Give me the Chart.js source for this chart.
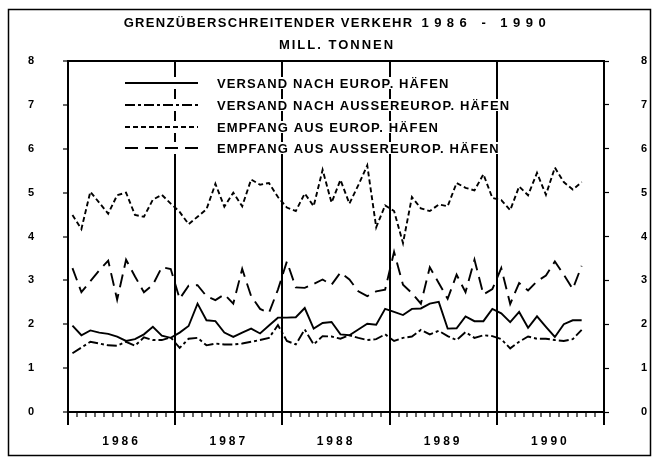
<!DOCTYPE html>
<html>
<head>
<meta charset="utf-8">
<script src="https://cdn.jsdelivr.net/npm/chart.js@4/dist/chart.umd.min.js"></script>
<style>
  html, body { margin: 0; padding: 0; background: #fff; }
  #wrap { width: 656px; height: 457px; position: relative; }
</style>
</head>
<body>
<div id="wrap"><canvas id="verkehrChart" width="656" height="457"></canvas></div>
<script>
// Daten: Monatswerte Jan 1986 - Okt 1990, Mill. Tonnen
const years = ['1986', '1987', '1988', '1989', '1990'];
const titleWords = 'GRENZÜBERSCHREITENDER VERKEHR';
const titleYears = '1986 - 1990';
const subtitleText = 'MILL. TONNEN';

const versandEurop = [
  1.97, 1.75, 1.86, 1.81, 1.78, 1.72, 1.62, 1.66, 1.77, 1.94, 1.74, 1.69,
  1.81, 1.96, 2.47, 2.09, 2.07, 1.81, 1.71, 1.81, 1.90, 1.79, 1.97, 2.15,
  2.15, 2.16, 2.37, 1.90, 2.03, 2.05, 1.77, 1.75, 1.88, 2.01, 1.99, 2.35,
  2.28, 2.21, 2.35, 2.36, 2.47, 2.51, 1.90, 1.91, 2.18, 2.07, 2.07, 2.35,
  2.25, 2.05, 2.28, 1.92, 2.18, 1.94, 1.71, 2.00, 2.09, 2.09
];
const versandAussereurop = [
  1.34, 1.47, 1.60, 1.56, 1.52, 1.51, 1.60, 1.51, 1.70, 1.64, 1.64, 1.70,
  1.46, 1.67, 1.69, 1.52, 1.56, 1.54, 1.54, 1.56, 1.60, 1.64, 1.69, 1.98,
  1.62, 1.54, 1.88, 1.54, 1.73, 1.72, 1.67, 1.75, 1.69, 1.64, 1.66, 1.77,
  1.62, 1.69, 1.72, 1.87, 1.77, 1.85, 1.73, 1.64, 1.82, 1.69, 1.75, 1.73,
  1.66, 1.45, 1.60, 1.72, 1.67, 1.67, 1.64, 1.62, 1.66, 1.87
];
const empfangEurop = [
  4.49, 4.17, 5.02, 4.77, 4.52, 4.94, 5.00, 4.49, 4.45, 4.84, 4.95, 4.75,
  4.56, 4.28, 4.45, 4.62, 5.20, 4.68, 5.00, 4.69, 5.30, 5.18, 5.22, 4.90,
  4.66, 4.58, 4.98, 4.69, 5.52, 4.77, 5.29, 4.75, 5.17, 5.62, 4.21, 4.71,
  4.58, 3.85, 4.90, 4.64, 4.58, 4.73, 4.69, 5.22, 5.11, 5.05, 5.42, 4.88,
  4.83, 4.60, 5.14, 4.94, 5.45, 4.95, 5.57, 5.24, 5.07, 5.24
];
const empfangAussereurop = [
  3.28, 2.73, 2.98, 3.23, 3.45, 2.56, 3.47, 3.09, 2.73, 2.90, 3.30, 3.26,
  2.58, 2.88, 2.89, 2.64, 2.55, 2.68, 2.47, 3.26, 2.64, 2.35, 2.26, 2.79,
  3.43, 2.84, 2.83, 2.92, 3.02, 2.90, 3.18, 3.02, 2.75, 2.64, 2.75, 2.79,
  3.65, 2.90, 2.71, 2.47, 3.30, 2.94, 2.58, 3.13, 2.73, 3.47, 2.68, 2.80,
  3.28, 2.46, 2.94, 2.77, 2.98, 3.11, 3.43, 3.13, 2.80, 3.33
];

const seriesLabels = [
  'VERSAND NACH EUROP. HÄFEN',
  'VERSAND NACH AUSSEREUROP. HÄFEN',
  'EMPFANG AUS EUROP. HÄFEN',
  'EMPFANG AUS AUSSEREUROP. HÄFEN'
];

const FONT = '"Liberation Sans", Arial, sans-serif';

// Monatswerte in der Mitte des Monats platzieren
function toPoints(values) {
  return values.map((v, i) => ({ x: i + 0.5, y: v }));
}

function isYearBoundary(v) {
  return v % 12 === 0 && v > 0 && v < 60;
}

// Titel, Legende, Rahmen und lange Jahresstriche
const decorPlugin = {
  id: 'decor',
  beforeDraw(chart) {
    chart.ctx.letterSpacing = '3px';
  },
  afterDraw(chart) {
    const ctx = chart.ctx;
    const area = chart.chartArea;
    const xs = chart.scales.x;
    ctx.save();
    ctx.letterSpacing = '0px';

    // lange Striche an den Jahresgrenzen
    ctx.strokeStyle = '#000';
    ctx.lineWidth = 2;
    for (let v = 0; v <= 60; v += 12) {
      const px = Math.round(xs.getPixelForValue(v));
      ctx.beginPath();
      ctx.moveTo(px, area.bottom);
      ctx.lineTo(px, area.bottom + 13);
      ctx.stroke();
    }

    // Titel (Jahreszahlen gesperrt)
    const cx = (area.left + area.right) / 2;
    ctx.fillStyle = '#000';
    ctx.textBaseline = 'middle';
    ctx.textAlign = 'left';
    ctx.font = 'bold 13px ' + FONT;
    ctx.letterSpacing = '1.3px';
    const w1 = ctx.measureText(titleWords + ' ').width;
    ctx.letterSpacing = '5.5px';
    const w2 = ctx.measureText(titleYears).width;
    const tx = cx - (w1 + w2) / 2;
    ctx.letterSpacing = '1.3px';
    ctx.fillText(titleWords + ' ', tx, 23);
    ctx.letterSpacing = '5.5px';
    ctx.fillText(titleYears, tx + w1 + 3, 23);

    ctx.textAlign = 'center';
    ctx.letterSpacing = '2px';
    ctx.fillText(subtitleText, cx + 1, 45);

    // Legende
    ctx.letterSpacing = '1.1px';
    ctx.font = 'bold 13px ' + FONT;
    ctx.textAlign = 'left';
    const rowY = [83, 105, 127, 148];
    chart.data.datasets.forEach((ds, i) => {
      const y = rowY[i];
      const w = ctx.measureText(ds.label).width;
      ctx.fillStyle = '#fff';
      ctx.fillRect(122, y - 6, 217 + w - 122 + 2, 12);
      ctx.strokeStyle = '#000';
      ctx.lineWidth = ds.borderWidth;
      ctx.setLineDash(ds.borderDash || []);
      ctx.beginPath();
      ctx.moveTo(125, y);
      ctx.lineTo(198, y);
      ctx.stroke();
      ctx.setLineDash([]);
      ctx.fillStyle = '#000';
      ctx.fillText(ds.label, 217, y + 1);
    });

    // Rahmen
    ctx.lineWidth = 1.5;
    ctx.strokeStyle = '#000';
    ctx.strokeRect(8.5, 9.5, 642, 446);
    ctx.restore();
  }
};

const ctx = document.getElementById('verkehrChart').getContext('2d');
new Chart(ctx, {
  type: 'line',
  data: {
    datasets: [
      { label: seriesLabels[0], data: toPoints(versandEurop), borderDash: [] },
      { label: seriesLabels[1], data: toPoints(versandAussereurop), borderDash: [10, 3, 3, 3] },
      { label: seriesLabels[2], data: toPoints(empfangEurop), borderDash: [5, 3] },
      { label: seriesLabels[3], data: toPoints(empfangAussereurop), borderDash: [13, 7] }
    ].map(ds => Object.assign(ds, {
      borderColor: '#000',
      borderWidth: 1.9,
      pointRadius: 0,
      tension: 0,
      fill: false,
      yAxisID: 'y'
    }))
  },
  options: {
    responsive: false,
    animation: false,
    devicePixelRatio: 1,
    layout: { padding: { top: 61, left: 0, right: 0, bottom: 0 } },
    plugins: {
      legend: { display: false },
      tooltip: { enabled: false },
      title: { display: false }
    },
    scales: {
      x: {
        type: 'linear',
        position: 'bottom',
        min: 0,
        max: 60,
        afterFit: s => { s.height = 45; },
        ticks: {
          stepSize: 1,
          maxTicksLimit: 100,
          autoSkip: false,
          maxRotation: 0,
          padding: 17,
          color: '#000',
          font: { family: FONT, size: 12, weight: 'bold' },
          callback: v => (v % 12 === 6 ? years[Math.floor(v / 12)] : '')
        },
        grid: {
          color: c => (isYearBoundary(c.tick.value) ? '#000' : 'rgba(0,0,0,0)'),
          lineWidth: 2,
          tickColor: '#000',
          tickWidth: 1.2,
          tickLength: 5
        },
        border: { color: '#000', width: 2 }
      },
      y: {
        position: 'left',
        min: 0,
        max: 8,
        afterFit: s => { s.width = 68; },
        ticks: {
          stepSize: 1,
          padding: 26,
          color: '#000',
          font: { family: FONT, size: 11, weight: 'bold' }
        },
        grid: {
          color: c => (c.tick.value === 8 ? '#000' : 'rgba(0,0,0,0)'),
          lineWidth: 2,
          tickColor: '#000',
          tickWidth: 1.2,
          tickLength: 5
        },
        border: { color: '#000', width: 2 }
      },
      y2: {
        position: 'right',
        min: 0,
        max: 8,
        afterFit: s => { s.width = 52; },
        ticks: {
          stepSize: 1,
          padding: 32,
          color: '#000',
          font: { family: FONT, size: 11, weight: 'bold' }
        },
        grid: {
          drawOnChartArea: false,
          tickColor: '#000',
          tickWidth: 1.2,
          tickLength: 5
        },
        border: { color: '#000', width: 2 }
      }
    }
  },
  plugins: [decorPlugin]
});
</script>
</body>
</html>
